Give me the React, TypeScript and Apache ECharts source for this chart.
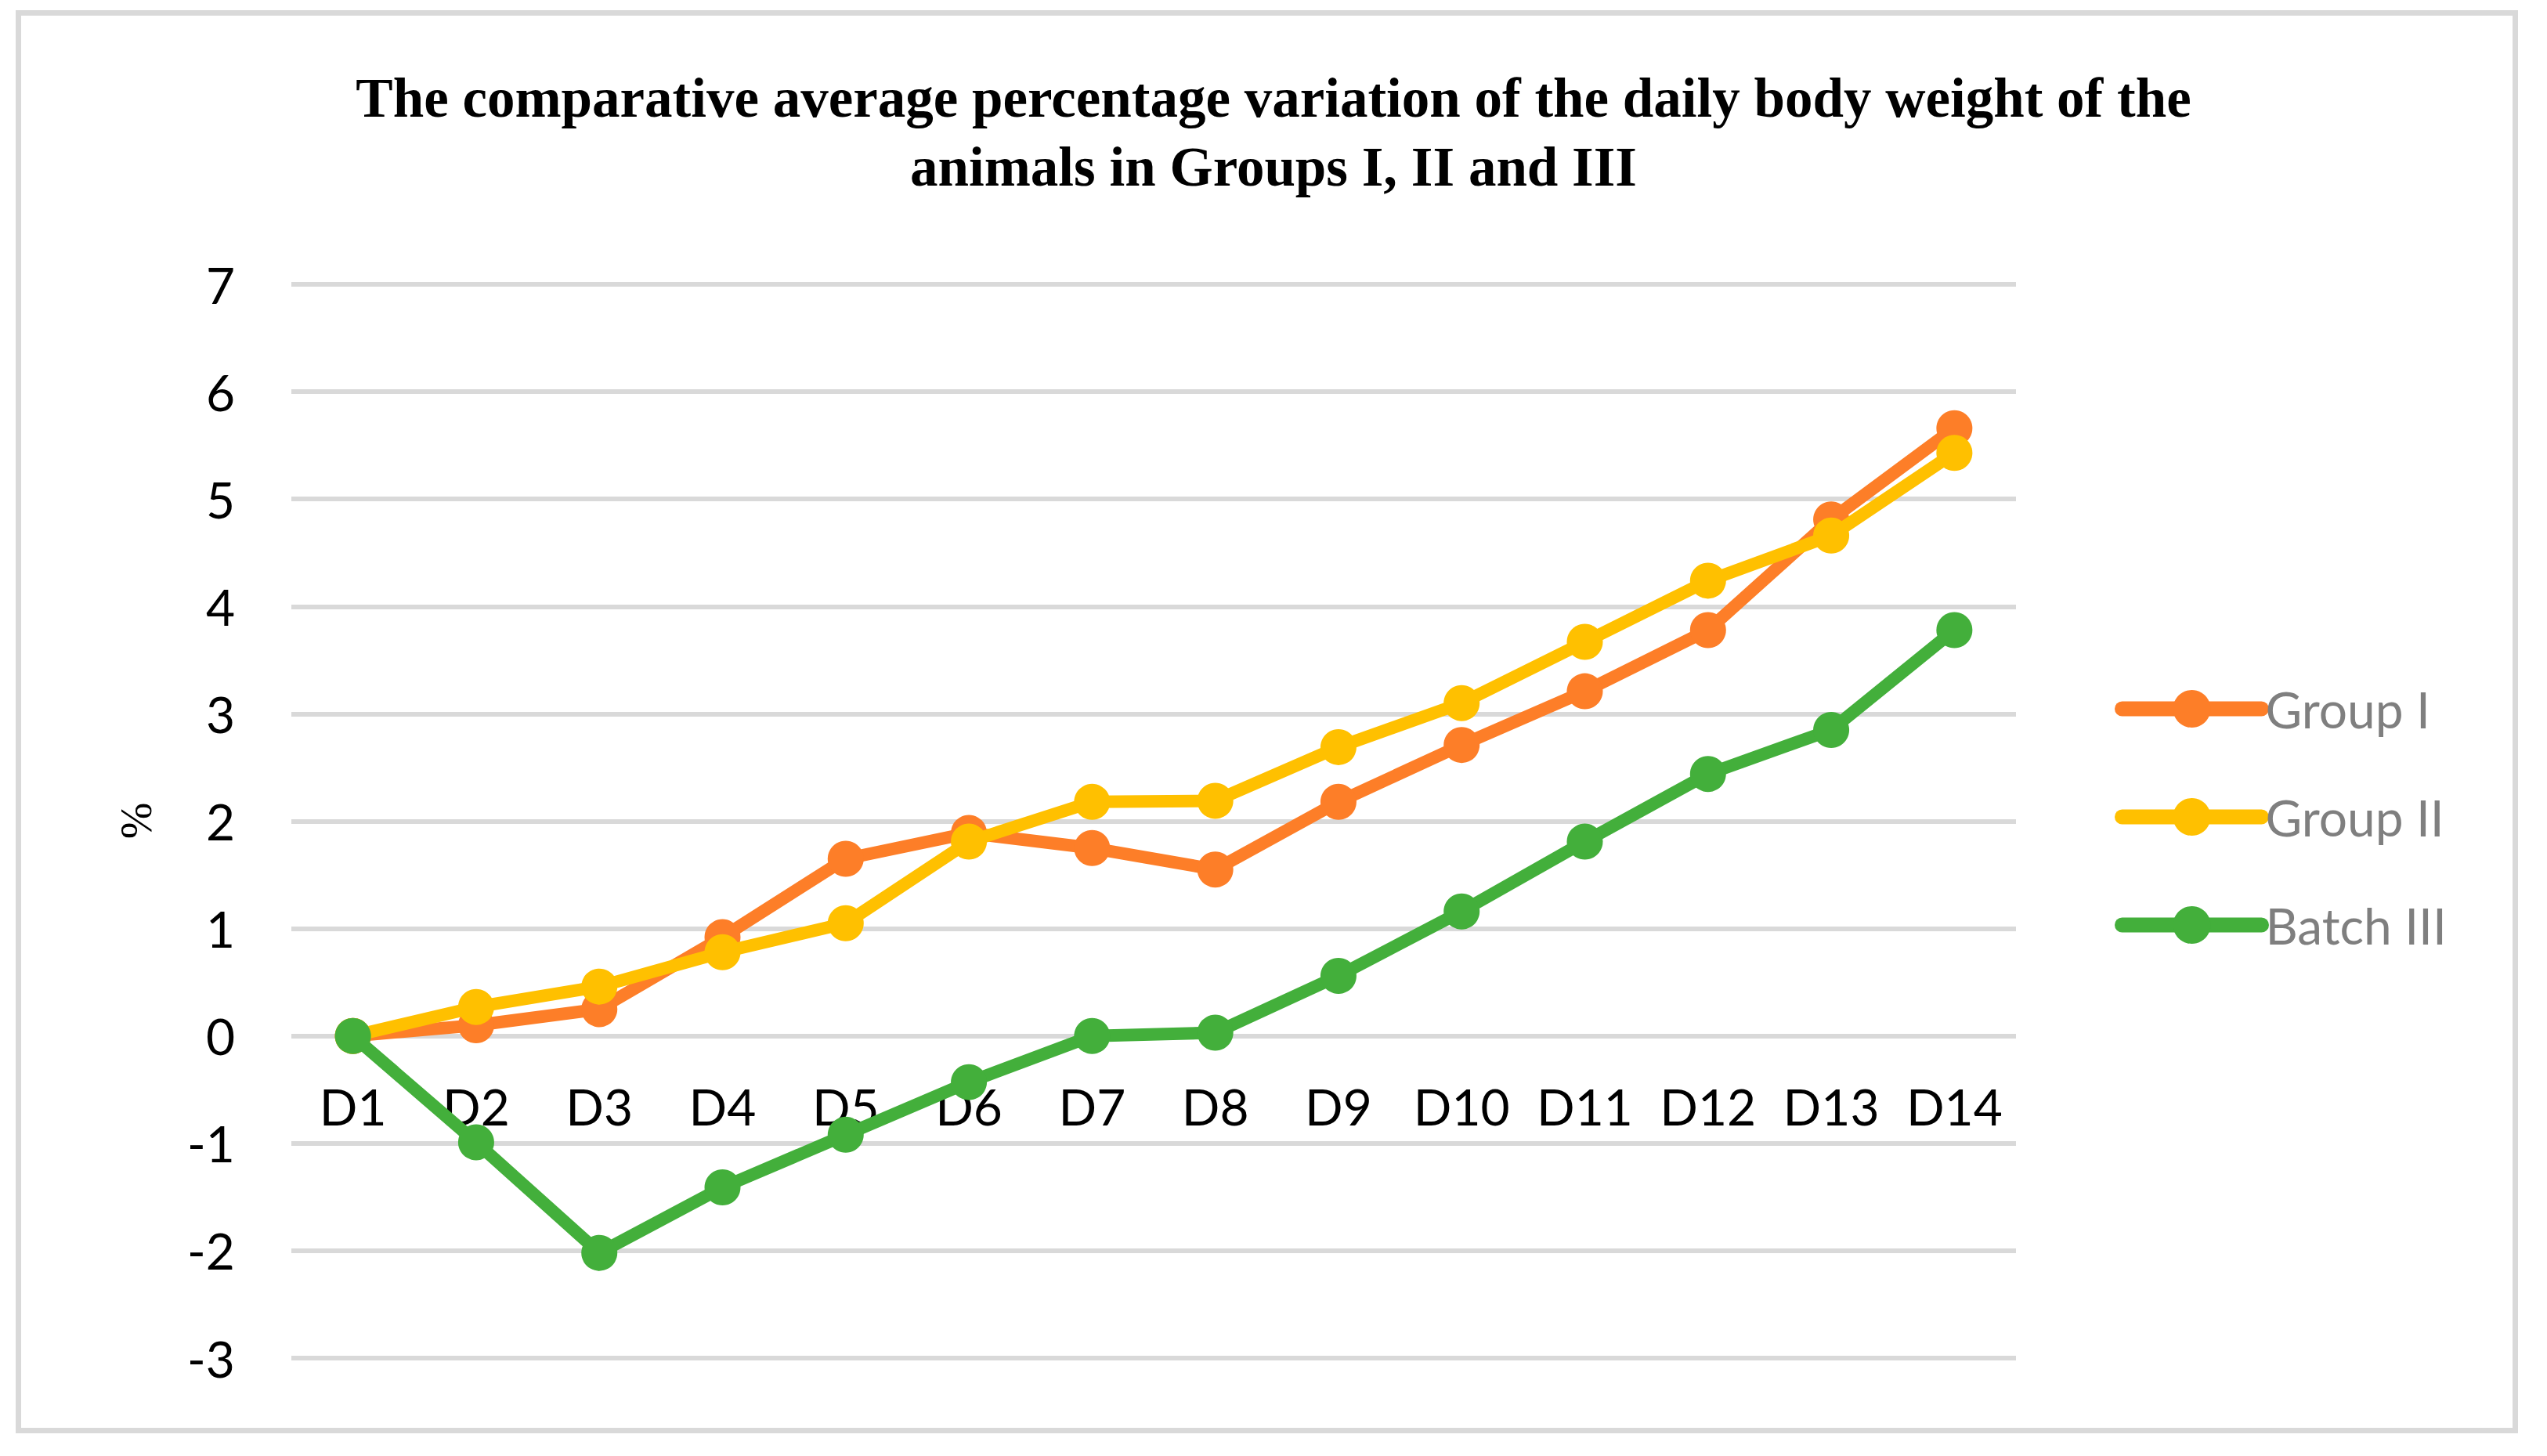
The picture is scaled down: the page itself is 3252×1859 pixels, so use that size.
import React, { useEffect, useRef } from "react";
import * as echarts from "echarts";

const categories = ["D1", "D2", "D3", "D4", "D5", "D6", "D7", "D8", "D9", "D10", "D11", "D12", "D13", "D14"];
const groupI = [0, 0.1, 0.25, 0.92, 1.65, 1.89, 1.75, 1.55, 2.18, 2.71, 3.21, 3.78, 4.81, 5.66];
const groupII = [0, 0.27, 0.46, 0.78, 1.05, 1.81, 2.18, 2.19, 2.69, 3.1, 3.67, 4.24, 4.66, 5.43];
const batchIII = [0, -0.99, -2.02, -1.41, -0.92, -0.43, 0, 0.03, 0.56, 1.16, 1.81, 2.44, 2.85, 3.78];
const seriesNames = ["Group I", "Group II", "Batch III"];
const seriesColors = ["#FD7E28", "#FFC000", "#43AF3B"];
const titleText = "The comparative average percentage variation of the daily body weight of the\nanimals in Groups I, II and III";
const yMin = -3;
const yMax = 7;
const yInterval = 1;

const GRID_HEIGHT = 1371;

export default function App() {
  const ref = useRef<HTMLDivElement>(null);
  useEffect(() => {
    if (!ref.current) return;
    const chart = echarts.init(ref.current, null, { renderer: "svg" });
    const data = [groupI, groupII, batchIII];
    // place the category axis on the value 0 line
    const zeroOffset = -(GRID_HEIGHT * (0 - yMin)) / (yMax - yMin);
    chart.setOption({
      animation: false,
      backgroundColor: "#ffffff",
      title: {
        text: titleText,
        left: "center",
        top: 68,
        textStyle: {
          fontFamily: "'Liberation Serif', serif",
          fontWeight: "bold",
          fontSize: 71,
          lineHeight: 88,
          color: "#000000",
        },
      },
      legend: {
        orient: "vertical",
        left: 2687,
        top: 860,
        itemWidth: 178,
        itemHeight: 60,
        itemGap: 74,
        data: seriesNames,
        lineStyle: { width: 19, cap: "round" },
        textStyle: {
          fontFamily: "Lato, sans-serif",
          fontSize: 64,
          color: "#7F7F7F",
        },
      },
      grid: {
        left: 364,
        top: 355,
        width: 2202,
        height: GRID_HEIGHT,
        containLabel: false,
      },
      xAxis: {
        type: "category",
        data: categories,
        boundaryGap: true,
        offset: zeroOffset,
        axisLine: { show: false },
        axisTick: { show: false },
        axisLabel: {
          interval: 0,
          margin: 58,
          fontFamily: "Lato, sans-serif",
          fontSize: 64,
          color: "#000000",
        },
      },
      yAxis: {
        type: "value",
        min: yMin,
        max: yMax,
        interval: yInterval,
        axisLine: { show: false },
        axisTick: { show: false },
        axisLabel: {
          margin: 72,
          fontFamily: "Lato, sans-serif",
          fontSize: 64,
          color: "#000000",
        },
        splitLine: { lineStyle: { color: "#D9D9D9", width: 6 } },
      },
      graphic: [
        {
          type: "rect",
          shape: { x: 15.5, y: 8.5, width: 3188, height: 1810 },
          style: { fill: "none", stroke: "#D9D9D9", lineWidth: 7 },
          silent: true,
        },
        {
          type: "text",
          x: 166,
          y: 1040,
          rotation: Math.PI / 2,
          style: {
            text: "%",
            fontFamily: "'Liberation Serif', serif",
            fontSize: 56,
            fill: "#000000",
            align: "center",
            verticalAlign: "middle",
          },
        },
      ],
      series: data.map((d, i) => ({
        name: seriesNames[i],
        type: "line",
        data: d,
        symbol: "circle",
        symbolSize: 46,
        itemStyle: { color: seriesColors[i] },
        lineStyle: { color: seriesColors[i], width: 16 },
        z: 2 + i,
      })),
    });
    return () => chart.dispose();
  }, []);
  return <div ref={ref} style={{ width: 3236, height: 1843 }} />;
}
